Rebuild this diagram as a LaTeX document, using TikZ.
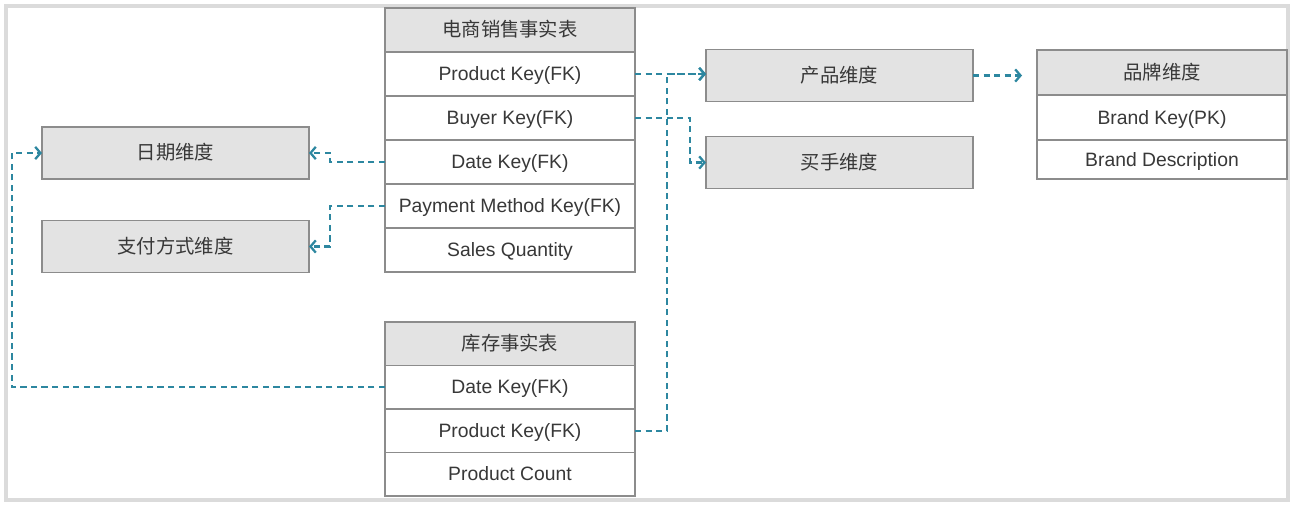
\documentclass[tikz,border=0pt]{standalone}
\usepackage{fontspec}
\setmainfont{Liberation Sans}
\newfontfamily\cjk{Noto Sans CJK SC}
\usetikzlibrary{positioning,arrows.meta}
\definecolor{lnk}{RGB}{45,135,160}
\begin{document}
\begin{tikzpicture}[>={Straight Barb[length=3pt,width=7pt]}]
\tikzstyle{every node}=[text=black!78, font=\fontsize{11}{13}\selectfont, text height=0.75em, text depth=0pt]
\tikzstyle{row}=[draw=black!45, line width=0.8pt, fill=white, minimum width=5cm, minimum height=0.88cm, inner sep=0pt, outer sep=0pt]
\tikzstyle{head}=[row, fill=black!11, font=\fontsize{11}{13}\selectfont\cjk]
\tikzstyle{dim}=[head, minimum width=5.34cm, minimum height=1.04cm]
\tikzstyle{link}=[draw=lnk, line width=1.3pt, dash pattern=on 3.5pt off 2.5pt, ->]
\useasboundingbox (0,0) rectangle (25.88,10.12);
\draw[draw=black!14, line width=0.08cm, fill=white] (0.12,0.12) rectangle (25.76,10);
% sales fact table
\node[head] (sales) at (10.2,9.52) {电商销售事实表};
\node[row, below=0pt of sales] (s-pk) {Product Key(FK)};
\node[row, below=0pt of s-pk] (s-bk) {Buyer Key(FK)};
\node[row, below=0pt of s-bk] (s-dk) {Date Key(FK)};
\node[row, below=0pt of s-dk] (s-pm) {Payment Method Key(FK)};
\node[row, below=0pt of s-pm] (s-sq) {Sales Quantity};
% inventory fact table
\node[head, minimum height=0.87cm] (inv) at (10.2,3.245) {库存事实表};
\node[row, minimum height=0.87cm, below=0pt of inv] (i-dk) {Date Key(FK)};
\node[row, minimum height=0.87cm, below=0pt of i-dk] (i-pk) {Product Key(FK)};
\node[row, minimum height=0.87cm, below=0pt of i-pk] (i-pc) {Product Count};
% brand table
\node[head, minimum height=0.9cm] (brand) at (23.24,8.67) {品牌维度};
\node[row, minimum height=0.9cm, below=0pt of brand] (b-key) {Brand Key(PK)};
\node[row, minimum height=0.78cm, below=0pt of b-key] (b-desc) {Brand Description};
% dimensions
\node[dim] (date) at (3.51,7.06) {日期维度};
\node[dim] (pay) at (3.51,5.19) {支付方式维度};
\node[dim] (prod) at (16.79,8.61) {产品维度};
\node[dim] (buyer) at (16.79,6.87) {买手维度};
% turning points
\coordinate (jn) at (13.34,0);
\coordinate (bt) at (13.8,0);
\coordinate (lt) at (6.6,0);
\coordinate (far) at (0.24,0);
\draw[link] (s-pk.east) -- (s-pk.east -| prod.west);
\draw[link] (i-pk.east) -| (jn |- s-pk.east) -- (s-pk.east -| prod.west);
\draw[link] (s-bk.east) -- (bt |- s-bk.east) |- (buyer.west);
\draw[link] (s-dk.west) -- (lt |- s-dk.west) |- (date.east);
\draw[link] (s-pm.west) -- (lt |- s-pm.west) |- (pay.east);
\draw[link] (i-dk.west) -- (far |- i-dk.west) |- (date.west);
\draw[link, shorten >=0.3cm] (prod.east) -- (prod.east -| brand.west);
\end{tikzpicture}
\end{document}
